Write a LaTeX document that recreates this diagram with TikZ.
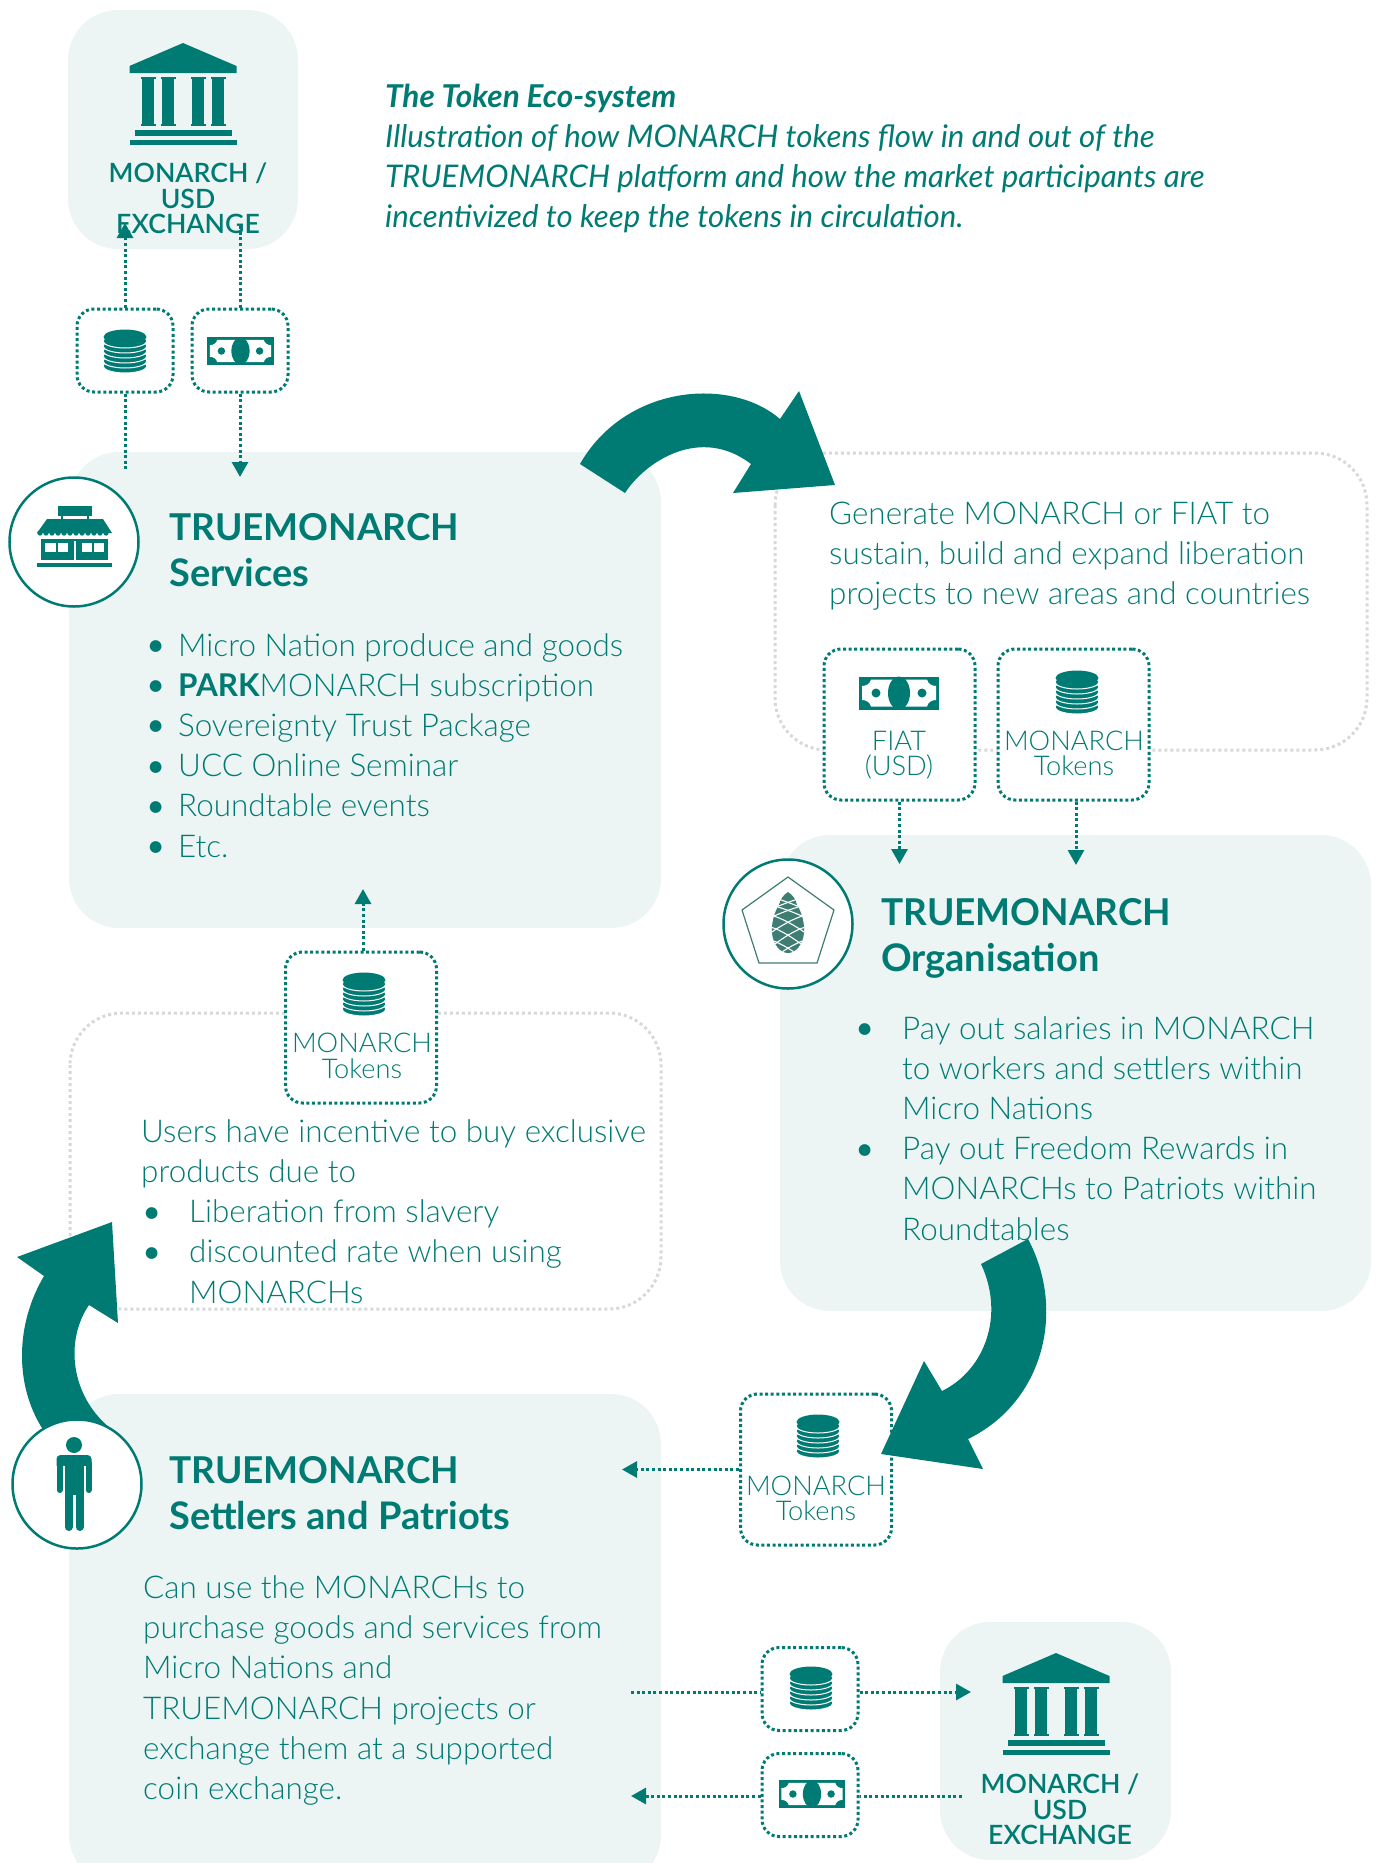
\documentclass[tikz,border=0pt]{standalone}
\usepackage{fontspec}
\setmainfont{Lato}
\newfontfamily\latolight{Lato Light}
\newfontfamily\latosemi{Lato Semibold}
\usetikzlibrary{arrows.meta}
\definecolor{tm-teal}{HTML}{007B73}
\definecolor{tm-pale}{HTML}{ECF5F4}
\definecolor{tm-gray}{HTML}{D6D9D8}
\definecolor{tm-cone}{HTML}{3E7D73}
\newcommand{\tmbullet}[1]{\makebox[0pt][r]{{\fontsize{40}{40}\selectfont\raisebox{-2.5pt}{\textbullet}}\hspace{#1}}}
\tikzset{
    panel-box/.style = {fill=tm-pale, rounded corners=50pt},
    ghost-box/.style = {draw=tm-gray, line width=3pt, dash pattern=on 3pt off 3pt, rounded corners=52pt},
    flow-box/.style = {draw=tm-teal, fill=white, line width=3pt, dash pattern=on 3pt off 2.6pt, rounded corners=17pt, inner sep=0pt},
    flow-small/.style = {flow-box, minimum width=96pt, minimum height=83pt},
    flow-big/.style = {flow-box, minimum width=151pt, minimum height=151pt},
    flow-line/.style = {draw=tm-teal, line width=3pt, dash pattern=on 3pt off 2.6pt},
    flow-arrow/.style = {flow-line, -{Triangle[width=16pt,length=15pt,sep=0pt]}},
    big-arrow/.style = {fill=tm-teal},
    icon-ring/.style = {circle, draw=tm-teal, fill=white, line width=2.5pt, minimum size=129pt, inner sep=0pt},
    title-text/.style = {anchor=base west, align=left, inner sep=0pt, text=tm-teal, font=\fontsize{37}{46}\selectfont\bfseries},
    body-text/.style = {anchor=base west, align=left, inner sep=0pt, text=tm-teal, font=\latolight\fontsize{31.4}{40.2}\selectfont},
    intro-text/.style = {anchor=base west, align=left, inner sep=0pt, text=tm-teal, font=\fontsize{31.2}{40}\selectfont\itshape},
    token-text/.style = {anchor=base, align=center, inner sep=0pt, text=tm-teal, font=\latolight\fontsize{27.2}{25.5}\selectfont},
    bank-text/.style = {anchor=base, align=center, inner sep=0pt, text=tm-teal, font=\latosemi\fontsize{26.6}{25.5}\selectfont},
    coins-icon/.pic = {
        \foreach \y in {15,10,5,0,-5,-10}
            \draw[fill=tm-teal, draw=white, line width=1pt] (0,\y) ellipse [x radius=22, y radius=7];
        \fill[tm-teal] (0,-14) ellipse [x radius=21.5, y radius=7.5];
    },
    money-icon/.pic = {
        \fill[tm-teal] (-40,-16.5) rectangle (40,16.5);
        \fill[white] (-28,-13.5) -- (28,-13.5) .. controls (29,-9) and (33,-7) .. (37,-7) -- (37,7) .. controls (33,7) and (29,9) .. (28,13.5) -- (-28,13.5) .. controls (-29,9) and (-33,7) .. (-37,7) -- (-37,-7) .. controls (-33,-7) and (-29,-9) .. (-28,-13.5) -- cycle;
        \fill[tm-teal] (0,0) ellipse [x radius=11, y radius=16.5];
        \fill[tm-teal] (-23,0) circle [radius=4.5];
        \fill[tm-teal] (23,0) circle [radius=4.5];
    },
    bank-icon/.pic = {
        \fill[tm-teal] (0,0) -- (53.5,23) -- (53.5,30) -- (-53.5,30) -- (-53.5,23) -- cycle;
        \foreach \x in {-35,-15,15,35} {
            \fill[tm-teal] (\x-6,34) rectangle (\x+6,83);
            \fill[tm-teal] (\x-7.5,34) rectangle (\x+7.5,36);
            \fill[tm-teal] (\x-7.5,81) rectangle (\x+7.5,83);
        }
        \fill[tm-teal] (-48.5,87) rectangle (48.5,92.5);
        \fill[tm-teal] (-53.5,96.5) rectangle (53.5,102);
    },
    store-icon/.pic = {
        \fill[tm-teal] (-16,-31) rectangle (18,-21);
        \fill[tm-teal] (-13,-21) rectangle (-11,-18);
        \fill[tm-teal] (13,-21) rectangle (15,-18);
        \fill[tm-teal] (-27,-18) -- (29,-18) -- (38,-4) -- (-37,-4) -- cycle;
        \foreach \x in {-34,-28,...,36}
            \fill[tm-teal] (\x,-4) circle [radius=2.7];
        \fill[tm-teal] (-33,2) rectangle (34,23);
        \fill[white] (-29,6) rectangle (-18,15);
        \fill[white] (-16,6) rectangle (-6,15);
        \fill[white] (8,6) rectangle (18,15);
        \fill[white] (20,6) rectangle (30,15);
        \fill[white] (0,4) rectangle (1.5,23);
        \fill[tm-teal] (-37,26) rectangle (38,30);
    },
    person-icon/.pic = {
        \fill[tm-teal] (0,0) circle [radius=8];
        \fill[tm-teal, rounded corners=4pt] (-17.5,10) rectangle (17.5,24);
        \draw[tm-teal, line width=6pt, line cap=round] (-14.5,18) -- (-14.5,45);
        \draw[tm-teal, line width=6pt, line cap=round] (14.5,18) -- (14.5,45);
        \fill[white] (-11.5,21) rectangle (-9.5,50);
        \fill[white] (9.5,21) rectangle (11.5,50);
        \fill[tm-teal] (-9.5,14) rectangle (9.5,50);
        \draw[tm-teal, line width=8pt, line cap=round] (-5.5,48) -- (-5.5,82);
        \draw[tm-teal, line width=8pt, line cap=round] (5.5,48) -- (5.5,82);
    },
    cone-icon/.pic = {
        \draw[tm-cone, line width=1.2pt] (0,-47) -- (46,-14) -- (29,39) -- (-29,39) -- (-46,-14) -- cycle;
        \begin{scope}
            \clip (0,-32) .. controls (5,-29) and (8,-24) .. (9,-19) .. controls (14,-12) and (17,2) .. (16,9) .. controls (15,20) and (8,29) .. (0,29) .. controls (-8,29) and (-15,20) .. (-16,9) .. controls (-17,2) and (-14,-12) .. (-9,-19) .. controls (-8,-24) and (-5,-29) .. (0,-32) -- cycle;
            \fill[tm-cone] (-18,-33) rectangle (18,30);
            \foreach \y/\w in {-27/1,-19/1,-9/1.4,3/1.6,16/1.6} {
                \draw[white, line width=1.1pt] (-18,\y) .. controls (-8,\y+2) and (8,\y+8*\w) .. (18,\y+13*\w);
                \draw[white, line width=1.1pt] (18,\y) .. controls (8,\y+2) and (-8,\y+8*\w) .. (-18,\y+13*\w);
            }
        \end{scope}
    },
}
\begin{document}
\begin{tikzpicture}[x=1pt,y=-1pt]
\clip (0,0) rectangle (1380,1863);
% panels
\fill[panel-box] (68,10) rectangle (298,249);
\fill[panel-box] (69,452) rectangle (661,928);
\fill[panel-box] (780,835) rectangle (1371,1311);
\fill[panel-box] (69,1394) rectangle (661,1885);
\fill[panel-box] (940,1622) rectangle (1171,1860);
\draw[ghost-box] (775,453) rectangle (1367,750);
\draw[ghost-box] (70,1013) rectangle (661,1309);

% texts
\node[intro-text] (intro) at (385,227.5) {{\fontsize{31.5}{40}\selectfont\bfseries The Token Eco-system}\\Illustration of how MONARCH tokens flow in and out of the\\TRUEMONARCH platform and how the market participants are\\incentivized to keep the tokens in circulation.};
\node[title-text] (services-title) at (169,586) {TRUEMONARCH\\{\fontsize{38}{46}\selectfont Services}};
\node[body-text] (services-list) at (178,857) {\tmbullet{11pt}Micro Nation produce and goods\\\tmbullet{11pt}{\normalfont\bfseries\fontsize{31.4}{40.2}\selectfont PARK}MONARCH subscription\\\tmbullet{11pt}Sovereignty Trust Package\\\tmbullet{11pt}UCC Online Seminar\\\tmbullet{11pt}Roundtable events\\\tmbullet{11pt}Etc.};
\node[body-text] (generate-text) at (829,604.5) {Generate MONARCH or FIAT to\\sustain, build and expand liberation\\projects to new areas and countries};
\node[title-text] (organisation-title) at (881,971) {TRUEMONARCH\\{\fontsize{38}{46}\selectfont Organisation}};
\node[body-text] (organisation-list) at (902,1240) {\tmbullet{26pt}Pay out salaries in MONARCH\\to workers and settlers within\\Micro Nations\\\tmbullet{26pt}Pay out Freedom Rewards in\\MONARCHs to Patriots within\\Roundtables};
\node[body-text] (users-text) at (141,1303) {Users have incentive to buy exclusive\\products due to\\\hspace{48pt}\tmbullet{26pt}Liberation from slavery\\\hspace{48pt}\tmbullet{26pt}discounted rate when using\\\hspace{48pt}MONARCHs};
\node[title-text] (settlers-title) at (169,1529) {TRUEMONARCH\\{\fontsize{38}{46}\selectfont Settlers and Patriots}};
\node[body-text] (settlers-text) at (143,1799.5) {Can use the MONARCHs to\\purchase goods and services from\\Micro Nations and\\TRUEMONARCH projects or\\exchange them at a supported\\coin exchange.};

% exchange top
\pic at (183,43) {bank-icon};
\node[bank-text] (exchange-top) at (188,233.5) {MONARCH /\\USD\\EXCHANGE};
\pic at (1056,1653) {bank-icon};
\node[bank-text] (exchange-low) at (1060,1844.5) {MONARCH /\\USD\\EXCHANGE};

% flow boxes
\node[flow-small] (coins-top) at (125,350.5) {};
\node[flow-small] (money-top) at (240,350.5) {};
\node[flow-big] (fiat-box) at (899.5,724.5) {};
\node[flow-big] (tokens-box) at (1073.5,724.5) {};
\node[flow-big] (users-box) at (361,1027.5) {};
\node[flow-big] (settlers-box) at (816,1469.5) {};
\node[flow-small] (coins-low) at (810,1689) {};
\node[flow-small] (money-low) at (810,1795) {};

\pic at (125,351) {coins-icon};
\pic[scale=.83] at (240.5,351) {money-icon};
\pic at (899,693) {money-icon};
\pic at (1077,692) {coins-icon};
\pic at (364,994) {coins-icon};
\pic at (818,1436) {coins-icon};
\pic at (811,1688) {coins-icon};
\pic[scale=.83] at (812,1794) {money-icon};
\node[token-text] (fiat-label) at (899,775.5) {FIAT\\(USD)};
\node[token-text] (tokens-label) at (1074,775.5) {MONARCH\\Tokens};
\node[token-text] (users-label) at (362,1078) {MONARCH\\Tokens};
\node[token-text] (settlers-label) at (816,1520.5) {MONARCH\\Tokens};

% free ends
\coordinate (top-in) at (125,223);
\coordinate (top-out) at (240,225);
\coordinate (services-out) at (125,470);
\coordinate (services-in) at (240,477);
\coordinate (org-a) at (899.5,864);
\coordinate (org-b) at (1076,865);
\coordinate (services-up) at (363,889);
\coordinate (settlers-in) at (622,1469.5);
\coordinate (low-start) at (631,1692);
\coordinate (low-in) at (971,1692);
\coordinate (low-back) at (962,1796);
\coordinate (low-end) at (631,1796);

\draw[flow-arrow] (coins-top.north) -- (top-in);
\draw[flow-line] (money-top.north) -- (top-out);
\draw[flow-line] (coins-top.south) -- (services-out);
\draw[flow-arrow] (money-top.south) -- (services-in);
\draw[flow-arrow] (fiat-box.south) -- (org-a);
\draw[flow-arrow] (tokens-box.south -| org-b) -- (org-b);
\draw[flow-arrow] (users-box.north -| services-up) -- (services-up);
\draw[flow-arrow] (settlers-box.west) -- (settlers-in);
\draw[flow-line] (low-start) -- (low-start -| coins-low.west);
\draw[flow-arrow] (low-in -| coins-low.east) -- (low-in);
\draw[flow-line] (low-back) -- (low-back -| money-low.east);
\draw[flow-arrow] (low-end -| money-low.west) -- (low-end);

% big arrows
\fill[big-arrow] (580,464) -- (625,493) .. controls (645,462) and (700,425) .. (751,464) -- (733,493) -- (835,485) -- (799,391) -- (780,419) .. controls (730,376) and (625,385) .. (580,464) -- cycle;
\fill[big-arrow] (1028,1239) -- (981,1264) .. controls (1005,1315) and (985,1370) .. (942,1391) -- (924,1361) -- (881,1454) -- (983,1469) -- (968,1439) .. controls (1044,1402) and (1066,1310) .. (1028,1239) -- cycle;
\fill[big-arrow] (42,1428) .. controls (15,1385) and (15,1325) .. (44,1276) -- (17,1257) -- (112,1222) -- (118,1323) -- (89,1305) .. controls (65,1340) and (70,1395) .. (110,1428) -- cycle;

% rings
\node[icon-ring] (services-ring) at (74,542) {};
\node[icon-ring] (organisation-ring) at (788,924) {};
\node[icon-ring] (settlers-ring) at (77,1484) {};
\pic at (74,537) {store-icon};
\pic at (788,924) {cone-icon};
\pic at (74,1445) {person-icon};
\end{tikzpicture}
\end{document}
